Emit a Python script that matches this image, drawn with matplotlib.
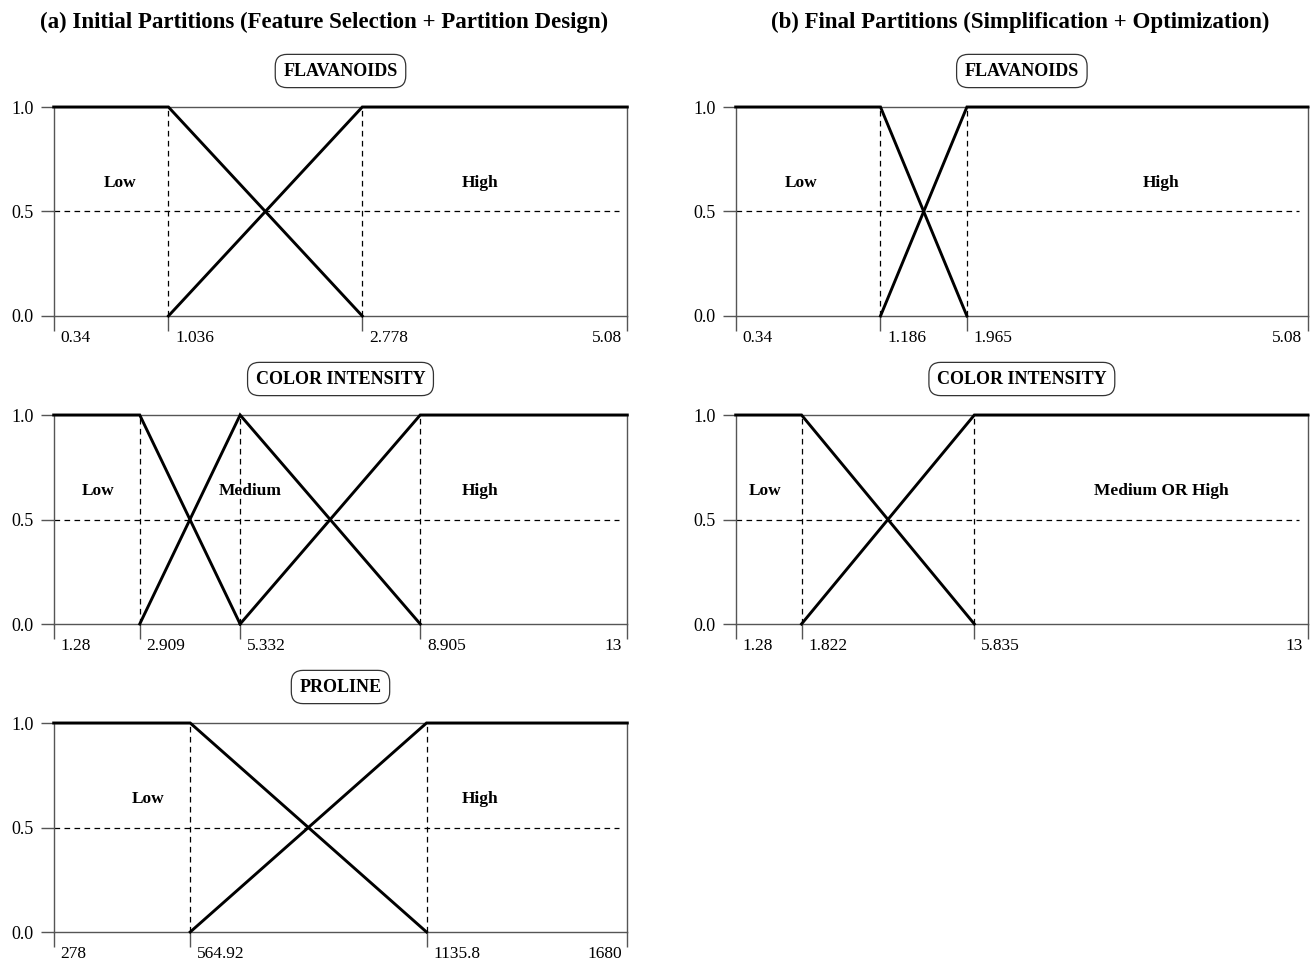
"""Fuzzy partitions of the wine features: initial vs final membership functions."""
import matplotlib

matplotlib.use("Agg")
import matplotlib.pyplot as plt
import numpy as np

plt.rcParams["font.family"] = ["Liberation Serif", "DejaVu Serif"]

# breakpoints (first and last are the variable's range)
FLAV_A = [0.34, 1.036, 2.778, 5.08]
FLAV_A_SETS = ["Low", "High"]
COLOR_A = [1.28, 2.909, 5.332, 8.905, 13]
COLOR_A_SETS = ["Low", "Medium", "High"]
PROLINE_A = [278, 564.92, 1135.8, 1680]
PROLINE_A_SETS = ["Low", "High"]

FLAV_B = [0.34, 1.186, 1.965, 5.08]
FLAV_B_SETS = ["Low", "High"]
COLOR_B = [1.28, 1.822, 5.835, 13]
COLOR_B_SETS = ["Low", "Medium OR High"]

TICK_LABELS = {
    "FLAV_A": ["0.34", "1.036", "2.778", "5.08"],
    "COLOR_A": ["1.28", "2.909", "5.332", "8.905", "13"],
    "PROLINE_A": ["278", "564.92", "1135.8", "1680"],
    "FLAV_B": ["0.34", "1.186", "1.965", "5.08"],
    "COLOR_B": ["1.28", "1.822", "5.835", "13"],
}

HEADERS = [
    "(a) Initial Partitions (Feature Selection + Partition Design)",
    "(b) Final Partitions (Simplification + Optimization)",
]

# --- layout -------------------------------------------------------------
# the original axes are schematic, not to scale: where each breakpoint sits
# along the axis (fraction of width), and where the set names are written
LAYOUT = {
    "FLAV_A": dict(col=0, row=0, title="FLAVANOIDS",
                   ticks=[0, 0.200, 0.538, 1], names=[0.116, 0.743]),
    "COLOR_A": dict(col=0, row=1, title="COLOR INTENSITY",
                    ticks=[0, 0.150, 0.325, 0.639, 1], names=[0.077, 0.343, 0.743]),
    "PROLINE_A": dict(col=0, row=2, title="PROLINE",
                      ticks=[0, 0.238, 0.650, 1], names=[0.165, 0.743]),
    "FLAV_B": dict(col=1, row=0, title="FLAVANOIDS",
                   ticks=[0, 0.253, 0.404, 1], names=[0.114, 0.743]),
    "COLOR_B": dict(col=1, row=1, title="COLOR INTENSITY",
                    ticks=[0, 0.115, 0.417, 1], names=[0.052, 0.743]),
}
DATA = {
    "FLAV_A": (FLAV_A, FLAV_A_SETS),
    "COLOR_A": (COLOR_A, COLOR_A_SETS),
    "PROLINE_A": (PROLINE_A, PROLINE_A_SETS),
    "FLAV_B": (FLAV_B, FLAV_B_SETS),
    "COLOR_B": (COLOR_B, COLOR_B_SETS),
}

AX_GRAY = "#555555"
DASH = (0, (4.5, 3.5))

W, H = 1316, 963
fig = plt.figure(figsize=(W / 100, H / 100), dpi=100)

col_x = [53.7 / W, 735.7 / W]
col_w = [573.6 / W, 572.3 / W]
row_y = [(H - 316) / H, (H - 624) / H, (H - 932) / H]
ax_h = 209 / H
header_x = [324 / W, 1020 / W]


def schematic_scale(ax, t, fracs):
    # piecewise-linear axis: breakpoints land where the original drew them
    t = np.asarray(t, dtype=float)
    fracs = np.asarray(fracs, dtype=float)
    ax.set_xscale("function", functions=(lambda x: np.interp(x, t, fracs),
                                         lambda y: np.interp(y, fracs, t)))


def draw_panel(ax, key):
    t, sets = DATA[key]
    lay = LAYOUT[key]
    n = len(sets)
    schematic_scale(ax, t, lay["ticks"])
    ax.set_xlim(t[0], t[-1])
    ax.set_ylim(0, 1)

    # membership functions
    for k in range(n):
        xs = [t[k], t[k + 1], t[k + 2]]
        if k == 0:
            ys = [1, 1, 0]
        elif k == n - 1:
            ys = [0, 1, 1]
        else:
            ys = [0, 1, 0]
        ax.plot(xs, ys, color="black", lw=2.1, clip_on=False, zorder=4,
                solid_joinstyle="miter")
        ax.text(lay["names"][k], 0.635, sets[k], transform=ax.transAxes,
                ha="center", va="center", fontsize=12.5, fontweight="bold")

    # guide lines
    ax.axhline(0.5, xmax=0.985, color="black", lw=0.9, ls=DASH, zorder=1)
    for b in t[1:-1]:
        ax.plot([b, b], [0, 1], color="black", lw=0.9, ls=DASH, zorder=1)

    for side in ["left", "right", "top", "bottom"]:
        ax.spines[side].set_color(AX_GRAY)
        ax.spines[side].set_linewidth(1.0)

    ax.set_yticks([0, 0.5, 1])
    ax.set_yticklabels(["0.0", "0.5", "1.0"])
    ax.tick_params(axis="y", direction="out", length=9.5, width=1.0,
                   color=AX_GRAY, labelsize=13, pad=5)
    ax.set_xticks(t)
    ax.set_xticklabels([])
    ax.xaxis.set_minor_locator(matplotlib.ticker.NullLocator())
    ax.tick_params(axis="x", direction="out", length=11, width=1.0,
                   color=AX_GRAY)

    labels = TICK_LABELS[key]
    for i, (x, lab) in enumerate(zip(t, labels)):
        last = i == len(t) - 1
        ax.annotate(lab, xy=(x, 0), xycoords=("data", "axes fraction"),
                    xytext=(-4 if last else 5, -16), textcoords="offset points",
                    ha="right" if last else "left", va="center", fontsize=12.5)

    ax.text(0.5, 1 + 36 / 209, lay["title"], transform=ax.transAxes,
            ha="center", va="center", fontsize=13, fontweight="bold",
            bbox=dict(boxstyle="round,pad=0.45,rounding_size=0.65",
                      fc="white", ec="#333333", lw=0.9))


for key, lay in LAYOUT.items():
    ax = fig.add_axes([col_x[lay["col"]], row_y[lay["row"]],
                       col_w[lay["col"]], ax_h])
    draw_panel(ax, key)

for col, header in enumerate(HEADERS):
    fig.text(header_x[col], 1 - 22 / H, header,
             ha="center", va="center", fontsize=16.5, fontweight="bold")

fig.savefig("out.png", dpi=100)
